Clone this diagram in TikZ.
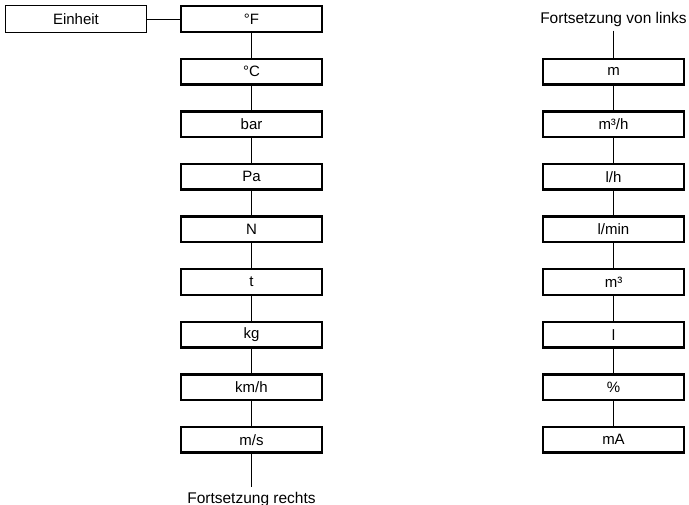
\documentclass[tikz,border=0pt]{standalone}
\usepackage{fontspec}
\setmainfont{Liberation Sans}
\usepackage{tikz}
\usetikzlibrary{positioning}

\begin{document}
\begin{tikzpicture}[
    x=1pt, y=1pt,
    node distance=24.6pt,
    unit/.style={rectangle,draw,line width=2.4pt,minimum width=140.6pt,minimum height=25.6pt,inner sep=0pt,font=\fontsize{15}{18}\selectfont},
    head/.style={rectangle,draw,line width=1.1pt,minimum width=141pt,minimum height=27pt,inner sep=0pt,font=\fontsize{15}{18}\selectfont},
    note/.style={rectangle,inner sep=5pt,font=\fontsize{15.5}{18}\selectfont},
    link/.style={line width=1.7pt}]
        \useasboundingbox (0,0) rectangle (689,-505);

        \node[unit] (degF) at (251.5,-19)
            {°F};

        \node[head] (einheit) [left=33pt of degF]
            {Einheit};

        \node[unit] (degC) [below=of degF]
            {°C};

        \node[unit] (bar) [below=of degC]
            {bar};

        \node[unit] (pa) [below=of bar]
            {Pa};

        \node[unit] (newton) [below=of pa]
            {N};

        \node[unit] (ton) [below=of newton]
            {t};

        \node[unit] (kg) [below=of ton]
            {kg};

        \node[unit] (kmh) [below=of kg]
            {km/h};

        \node[unit] (ms) [below=of kmh]
            {m/s};

        \node[note] (rechts) [below=33pt of ms]
            {Fortsetzung rechts};

        \node[unit] (m) [right=219pt of degC]
            {m};

        \node[note, inner sep=4pt] (links) [above=27pt of m]
            {Fortsetzung von links};

        \node[unit] (m3h) [below=of m]
            {m³/h};

        \node[unit] (lh) [below=of m3h]
            {l/h};

        \node[unit] (lmin) [below=of lh]
            {l/min};

        \node[unit] (m3) [below=of lmin]
            {m³};

        \node[unit] (liter) [below=of m3]
            {l};

        \node[unit] (percent) [below=of liter]
            {\%};

        \node[unit] (mA) [below=of percent]
            {mA};

        \draw[line width=0.9pt] (einheit) -- (degF);
        \draw[link] (degF) -- (degC);
        \draw[link] (degC) -- (bar);
        \draw[link] (bar) -- (pa);
        \draw[link] (pa) -- (newton);
        \draw[link] (newton) -- (ton);
        \draw[link] (ton) -- (kg);
        \draw[link] (kg) -- (kmh);
        \draw[link] (kmh) -- (ms);
        \draw[link] (ms) -- (rechts);

        \draw[link] (links) -- (m);
        \draw[link] (m) -- (m3h);
        \draw[link] (m3h) -- (lh);
        \draw[link] (lh) -- (lmin);
        \draw[link] (lmin) -- (m3);
        \draw[link] (m3) -- (liter);
        \draw[link] (liter) -- (percent);
        \draw[link] (percent) -- (mA);

    \end{tikzpicture}
\end{document}
